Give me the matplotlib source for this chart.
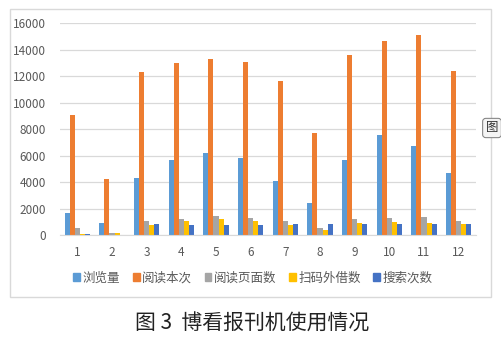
import matplotlib
matplotlib.use("Agg")
import matplotlib.pyplot as plt
from matplotlib.patches import Rectangle, Patch
import numpy as np

plt.rcParams['font.family'] = ['Noto Sans CJK SC', 'DejaVu Sans']

months = ["1", "2", "3", "4", "5", "6", "7", "8", "9", "10", "11", "12"]
series_names = ["浏览量", "阅读本次", "阅读页面数", "扫码外借数", "搜索次数"]
views = [1700, 940, 4300, 5670, 6200, 5820, 4100, 2450, 5670, 7560, 6730, 4690]
reads = [9080, 4240, 12350, 13030, 13300, 13080, 11670, 7730, 13610, 14690, 15140, 12400]
pages = [530, 180, 1090, 1220, 1470, 1320, 1060, 560, 1220, 1320, 1390, 1060]
scans = [100, 130, 780, 1090, 1220, 1090, 780, 380, 940, 1010, 940, 860]
searches = [100, 20, 860, 780, 780, 780, 860, 860, 860, 860, 860, 860]
caption = "图 3  博看报刊机使用情况"

COLORS = ["#5B9BD5", "#ED7D31", "#A5A5A5", "#FFC000", "#4472C4"]
GRID = "#D9D9D9"
TXT = "#595959"

W, H = 501, 344
fig = plt.figure(figsize=(W / 100, H / 100), dpi=100)
fig.patch.set_facecolor("white")

# outer chart frame
fig.patches.append(Rectangle((10 / W, 1 - 297 / H), 481 / W, 288 / H,
                             transform=fig.transFigure, fill=False,
                             ec=GRID, lw=1))

ax = fig.add_axes([60 / W, 1 - 235 / H, 416 / W, (235 - 23.3) / H])
x = np.arange(len(months))
bw = 0.145
data = [views, reads, pages, scans, searches]
for i, (vals, col) in enumerate(zip(data, COLORS)):
    ax.bar(x + (i - 2) * bw, vals, width=bw, color=col, zorder=2)

ax.set_xlim(-0.5, len(months) - 0.5)
ax.set_ylim(0, 16000)
ax.set_yticks(range(0, 16001, 2000))
ax.yaxis.grid(True, color=GRID, lw=0.9, zorder=0)
ax.set_axisbelow(True)
for s in ["top", "right", "left"]:
    ax.spines[s].set_visible(False)
ax.spines["bottom"].set_color(GRID)
ax.tick_params(length=0, labelsize=8.5, colors=TXT)
ax.tick_params(axis="y", pad=10)
ax.tick_params(axis="x", pad=8)
ax.set_xticks(x)
ax.set_xticklabels(months)

handles = [Patch(color=c) for c in COLORS]
fig.legend(handles, series_names, loc="center",
           bbox_to_anchor=(253 / W, 1 - 278 / H), ncol=5, frameon=False,
           handlelength=0.55, handleheight=0.55, handletextpad=0.2,
           columnspacing=1.0, fontsize=9, labelcolor=TXT)

fig.text(252 / W, 1 - 324 / H, caption, ha="center", va="center",
         fontsize=15, color="#222222")

# small floating box at right edge
fig.text(492 / W, 1 - 128 / H, "图", ha="center", va="center", fontsize=9,
         color="#333333",
         bbox=dict(boxstyle="round,pad=0.25", fc="#f4f4f4", ec="#888888", lw=0.8))

fig.savefig("out.png", dpi=100, facecolor="white")
